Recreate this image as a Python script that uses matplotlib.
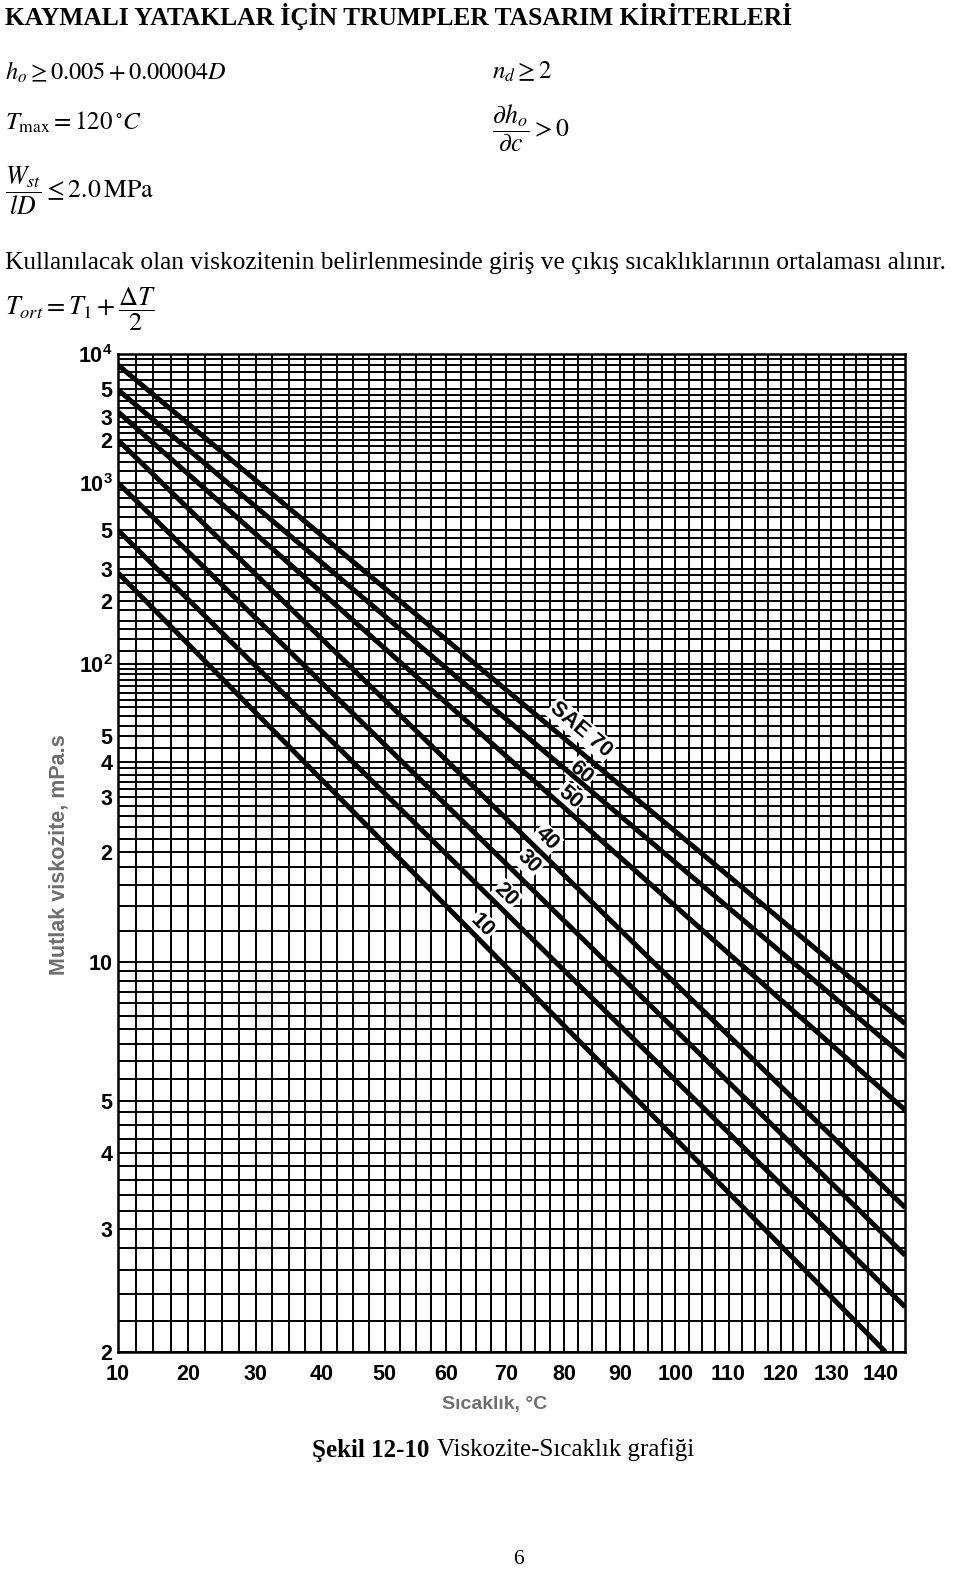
import numpy as np
import matplotlib.pyplot as plt
from matplotlib.ticker import NullFormatter

plt.rcParams['font.family'] = ['Liberation Sans', 'DejaVu Sans']
plt.rcParams['mathtext.fontset'] = 'custom'
plt.rcParams['mathtext.rm'] = 'Liberation Sans'
plt.rcParams['mathtext.bf'] = 'Liberation Sans:bold'

# SAE yag dogrulari: 10 C'deki ve son noktadaki viskozite (mPa.s)
sae_label = ['10', '20', '30', '40', '50', '60', 'SAE 70']
t_start = [10, 10, 10, 10, 10, 10, 10]
mu_start = [284, 500, 1000, 2000, 3280, 4930, 8000]
t_end = [141, 145, 145, 145, 145, 145, 145]
mu_end = [2.0, 2.3, 2.73, 3.24, 4.8, 6.1, 7.2]

# etiketlerin yeri (sicaklik, viskozite) ve acisi
label_t = [66, 70, 74, 77, 81, 83, 83]
label_mu = [12.4, 15.0, 18.7, 22, 30, 36.5, 53]
label_rot = [-45, -45, -45, -45, -40, -40, -40]

x_ticks = [10, 20, 30, 40, 50, 60, 70, 80, 90, 100, 110, 120, 130, 140]
y_ticks = [2, 3, 4, 5, 10, 20, 30, 40, 50, 100, 200, 300, 500,
           1000, 2000, 3000, 5000, 10000]
y_ticklabels = ['2', '3', '4', '5', '10', '2', '3', '4', '5', r'$\mathbf{10^2}$',
                '2', '3', '5', r'$\mathbf{10^3}$', '2', '3', '5', r'$\mathbf{10^4}$']

# izgara cizgileri
x_grid = list(np.arange(12.5, 145, 2.5))
y_grid = [2.2, 2.4, 2.6, 2.8, 3.2, 3.4, 3.6, 3.8, 4.25, 4.5, 4.75,
          5.5, 6, 6.5, 7, 7.5, 8, 8.5, 9, 9.5, 12, 14, 16, 18,
          22, 24, 26, 28, 32, 34, 36, 38, 45, 55, 60, 65, 70, 75, 80, 85, 90, 95,
          115, 130, 145, 160, 180, 225, 250, 275, 350, 400, 450,
          600, 700, 800, 900, 1200, 1400, 1600, 1800, 2250, 2500, 2750,
          3500, 4000, 4500, 6000, 7000, 8000, 9000]


# Sicaklik ekseni: log(T mutlak), viskozite ekseni: log(log(mu + 0.7))
def fwd_t(t):
    return np.log10(np.asarray(t, float) + 273.15)


def inv_t(u):
    return 10 ** np.asarray(u, float) - 273.15


def fwd_v(m):
    m = np.clip(np.asarray(m, float), 0.31, None)
    return np.log10(np.log10(m + 0.7))


def inv_v(v):
    return 10 ** (10 ** np.asarray(v, float)) - 0.7


W, H = 960, 1570
fig = plt.figure(figsize=(W / 100, H / 100), dpi=100)


def ptxt(x, y, s, **kw):
    fig.text(x / W, 1 - y / H, s, **kw)


serif = 'Liberation Serif'
ptxt(5, 16, 'KAYMALI YATAKLAR İÇİN TRUMPLER TASARIM KİRİTERLERİ',
     family=serif, weight='bold', fontsize=18.4, va='center')
ptxt(5, 72, r'$h_o \geq 0.005 + 0.00004D$', fontsize=17.5, va='center',
     math_fontfamily='stix')
ptxt(5, 122, r'$T_{\mathrm{max}} = 120\,^{\circ}C$', fontsize=18, va='center',
     math_fontfamily='stix')
ptxt(5, 191, r'$\dfrac{W_{st}}{lD} \leq 2.0\,\mathrm{MPa}$', fontsize=18.5,
     va='center', math_fontfamily='stix')
ptxt(492, 72, r'$n_d \geq 2$', fontsize=18, va='center', math_fontfamily='stix')
ptxt(492, 128, r'$\dfrac{\partial h_o}{\partial c} > 0$', fontsize=18.5,
     va='center', math_fontfamily='stix')
ptxt(5, 263, 'Kullanılacak olan viskozitenin belirlenmesinde giriş ve çıkış '
     'sıcaklıklarının ortalaması alınır.', family=serif, fontsize=18.3,
     va='center')
ptxt(5, 309, r'$T_{ort} = T_1 + \dfrac{\Delta T}{2}$', fontsize=19,
     va='center', math_fontfamily='stix')

ax = fig.add_axes([118 / W, 1 - 1352 / H, (905 - 118) / W, (1352 - 354) / H])
ax.set_xscale('function', functions=(fwd_t, inv_t))
ax.set_yscale('function', functions=(fwd_v, inv_v))
ax.set_xlim(10, 145)
ax.set_ylim(2, 10000)

ax.set_xticks(x_ticks)
ax.set_xticklabels([str(t) for t in x_ticks])
ax.set_yticks(y_ticks)
ax.set_yticklabels(y_ticklabels)
ax.set_xticks(x_grid, minor=True)
ax.set_yticks(y_grid, minor=True)
ax.xaxis.set_minor_formatter(NullFormatter())
ax.yaxis.set_minor_formatter(NullFormatter())
ax.tick_params(which='both', length=0)
ax.tick_params(axis='x', pad=9, labelsize=15.5)
ax.tick_params(axis='y', pad=4, labelsize=15.5)
for lab in ax.get_xticklabels() + ax.get_yticklabels():
    lab.set_fontweight('bold')
ax.grid(which='both', color='black', lw=1.4)
ax.set_axisbelow(True)
for sp in ax.spines.values():
    sp.set_linewidth(1.8)

for i in range(len(sae_label)):
    ax.plot([t_start[i], t_end[i]], [mu_start[i], mu_end[i]],
            color='black', lw=3.6, solid_capstyle='butt', zorder=5)
    ax.text(label_t[i], label_mu[i], sae_label[i], rotation=label_rot[i],
            ha='center', va='center', fontsize=15.5, weight='bold', zorder=4,
            rotation_mode='anchor',
            bbox=dict(facecolor='white', edgecolor='none', pad=1.0))

ax.set_xlabel('Sıcaklık, °C', color='#6e6e6e', fontsize=14, weight='bold')
ax.xaxis.set_label_coords((495 - 118) / 787, (1352 - 1396) / 998)
ax.set_ylabel('Mutlak viskozite, mPa.s', color='#6e6e6e', fontsize=15.5,
              weight='bold')
ax.yaxis.set_label_coords((70 - 118) / 787, (1352 - 855) / 998)

ptxt(312, 1450, 'Şekil 12-10', family=serif, weight='bold', fontsize=18,
     va='center')
ptxt(437, 1450, 'Viskozite-Sıcaklık grafiği', family=serif, fontsize=18,
     va='center')
ptxt(518, 1560, '6', family=serif, fontsize=15.5, va='center', ha='center')

fig.savefig('out.png', dpi=100)
